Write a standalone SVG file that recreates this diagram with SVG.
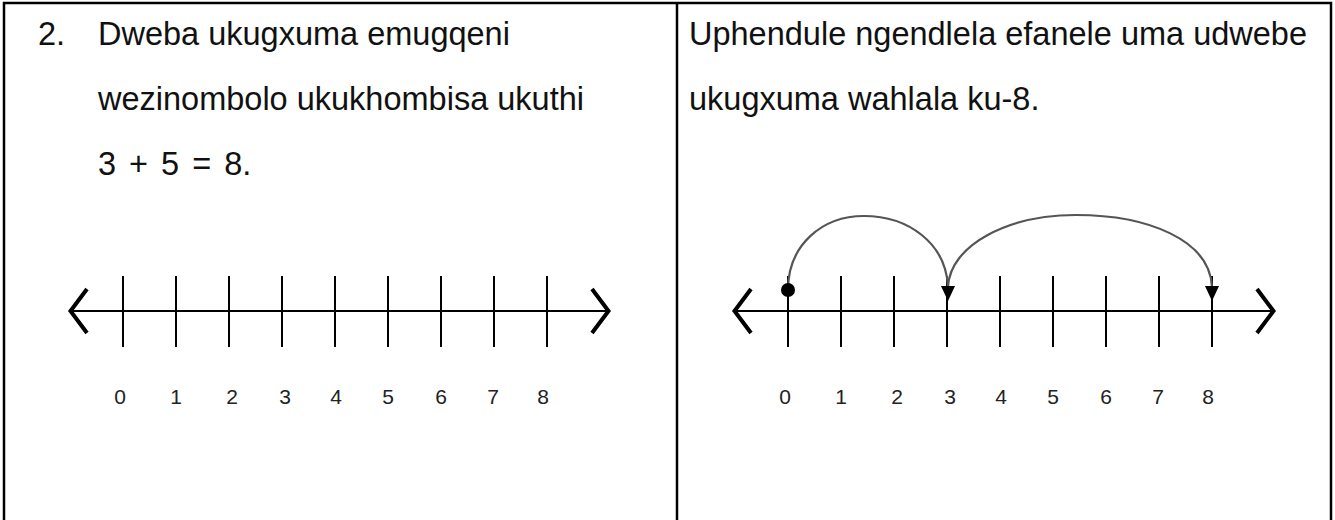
<svg xmlns="http://www.w3.org/2000/svg" width="1335" height="520" viewBox="0 0 1335 520">
<style>
.t{font-family:"Liberation Sans",Arial,sans-serif;font-size:32.5px;fill:#111}
.n{font-family:"Liberation Sans",Arial,sans-serif;font-size:21px;fill:#222;text-anchor:middle}
.ax{stroke:#000;stroke-width:2;fill:none}
.tk{stroke:#000;stroke-width:2}
.ch{stroke:#000;stroke-width:4;fill:none;stroke-linecap:butt}
.arc{stroke:#555;stroke-width:2.2;fill:none}
</style>
<defs>
<g id="ticks">
<line class="tk" x1="0" y1="276" x2="0" y2="347"/>
<line class="tk" x1="53" y1="276" x2="53" y2="347"/>
<line class="tk" x1="106" y1="276" x2="106" y2="347"/>
<line class="tk" x1="159" y1="276" x2="159" y2="347"/>
<line class="tk" x1="212" y1="276" x2="212" y2="347"/>
<line class="tk" x1="265" y1="276" x2="265" y2="347"/>
<line class="tk" x1="318" y1="276" x2="318" y2="347"/>
<line class="tk" x1="371" y1="276" x2="371" y2="347"/>
<line class="tk" x1="424" y1="276" x2="424" y2="347"/>
</g>
<g id="labels">
<text class="n" x="-3" y="404">0</text>
<text class="n" x="53" y="404">1</text>
<text class="n" x="109" y="404">2</text>
<text class="n" x="162" y="404">3</text>
<text class="n" x="213" y="404">4</text>
<text class="n" x="265" y="404">5</text>
<text class="n" x="318" y="404">6</text>
<text class="n" x="370" y="404">7</text>
<text class="n" x="420" y="404">8</text>
</g>
</defs>
<rect width="1335" height="520" fill="#fff"/>
<g id="frame" fill="none" stroke="#000" stroke-width="2.5">
<path d="M4,530 V3 H1331 V530"/>
<line x1="677" y1="3" x2="677" y2="530"/>
</g>
<g id="left-text">
<text class="t" x="38" y="45">2.</text>
<text class="t" x="98" y="45">Dweba ukugxuma emugqeni</text>
<text class="t" x="98" y="110">wezinombolo ukukhombisa ukuthi</text>
<text class="t" x="98" y="175" style="word-spacing:4px">3 + 5 = 8.</text>
</g>
<g id="right-text">
<text class="t" x="689" y="45">Uphendule ngendlela efanele uma udwebe</text>
<text class="t" x="689" y="110">ukugxuma wahlala ku-8.</text>
</g>
<g id="numberline-left">
<line class="ax" x1="70" y1="311" x2="609" y2="311"/>
<polyline class="ch" points="87,289 70.5,311 87,333"/>
<polyline class="ch" points="592,289 608.5,311 592,333"/>
<use href="#ticks" x="123"/>
<use href="#labels" x="123"/>
</g>
<g id="numberline-right">
<line class="ax" x1="734" y1="311" x2="1274" y2="311"/>
<polyline class="ch" points="751,289 734.5,311 751,333"/>
<polyline class="ch" points="1257,289 1273.5,311 1257,333"/>
<use href="#ticks" x="788"/>
<use href="#labels" x="788"/>
</g>
<g id="connectors">
<path class="arc" d="M788,290 C788,245 822,216 864,216 C908,216 946,243 948,287"/>
<path class="arc" d="M948,287 C950,245 1008,215 1076,215 C1148,215 1210,240 1212,287"/>
<circle cx="788" cy="290" r="7" fill="#000"/>
<polygon points="941,286 955,286 948,301" fill="#000"/>
<polygon points="1205,286 1219,286 1212,301" fill="#000"/>
</g>
</svg>
